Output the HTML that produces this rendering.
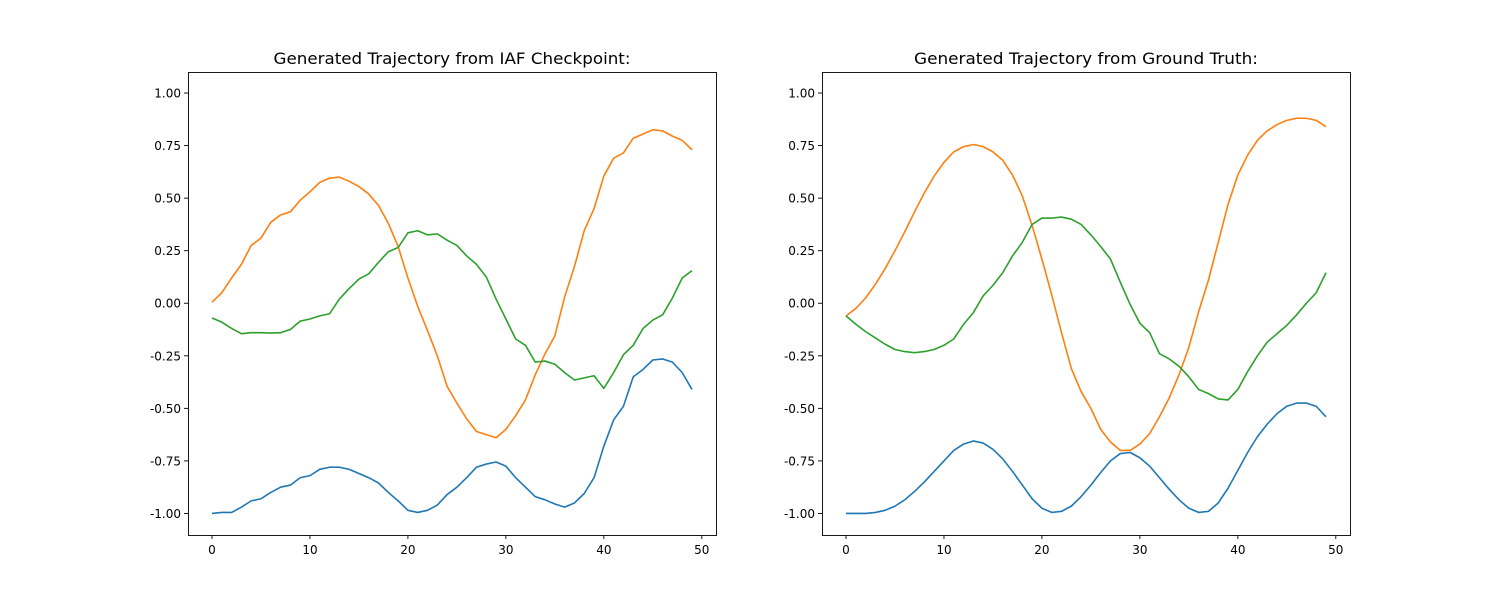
<!DOCTYPE html>
<html><head><meta charset="utf-8"><style>
html,body{margin:0;padding:0;background:#fff;}
svg{display:block;font-family:"DejaVu Sans","Liberation Sans",sans-serif;}
</style></head><body>
<svg id="fig" width="1500" height="600" viewBox="0 0 1500 600"></svg>
<script>
const xs = Array.from({length:50},(_,i)=>i);
const titles = ["Generated Trajectory from IAF Checkpoint:","Generated Trajectory from Ground Truth:"];
const titleLens = [357,344];
const xTicks = [0,10,20,30,40,50];
const yTicks = [-1.00,-0.75,-0.50,-0.25,0.00,0.25,0.50,0.75,1.00];
const seriesColors = ["#1f77b4","#ff7f0e","#2ca02c"];
const seriesNames = ["blue","orange","green"];
const leftBlue = [-1.0,-0.995,-0.995,-0.97,-0.94,-0.93,-0.9,-0.875,-0.865,-0.83,-0.82,-0.79,-0.78,-0.78,-0.79,-0.81,-0.83,-0.855,-0.9,-0.94,-0.985,-0.995,-0.985,-0.96,-0.91,-0.875,-0.83,-0.78,-0.765,-0.755,-0.775,-0.83,-0.875,-0.92,-0.935,-0.955,-0.97,-0.95,-0.905,-0.83,-0.68,-0.555,-0.49,-0.35,-0.315,-0.27,-0.265,-0.28,-0.33,-0.41];
const leftOrange = [0.005,0.05,0.12,0.185,0.275,0.31,0.385,0.42,0.435,0.49,0.53,0.575,0.595,0.6,0.58,0.555,0.52,0.465,0.38,0.27,0.12,-0.015,-0.13,-0.25,-0.395,-0.475,-0.55,-0.61,-0.625,-0.64,-0.6,-0.535,-0.46,-0.34,-0.24,-0.155,0.03,0.175,0.345,0.45,0.605,0.69,0.715,0.785,0.805,0.825,0.82,0.795,0.775,0.73];
const leftGreen = [-0.07,-0.09,-0.12,-0.145,-0.14,-0.14,-0.142,-0.14,-0.125,-0.085,-0.075,-0.06,-0.05,0.02,0.07,0.115,0.14,0.195,0.245,0.265,0.335,0.345,0.325,0.33,0.3,0.275,0.225,0.185,0.125,0.02,-0.075,-0.17,-0.2,-0.28,-0.275,-0.29,-0.33,-0.365,-0.355,-0.345,-0.405,-0.33,-0.245,-0.2,-0.12,-0.08,-0.055,0.025,0.12,0.155];
const rightBlue = [-1.0,-1.0,-1.0,-0.995,-0.985,-0.965,-0.935,-0.895,-0.85,-0.8,-0.75,-0.7,-0.67,-0.655,-0.665,-0.695,-0.74,-0.8,-0.865,-0.93,-0.975,-0.995,-0.99,-0.965,-0.92,-0.865,-0.805,-0.75,-0.715,-0.71,-0.735,-0.775,-0.83,-0.885,-0.935,-0.975,-0.995,-0.99,-0.95,-0.88,-0.795,-0.71,-0.635,-0.575,-0.525,-0.49,-0.475,-0.475,-0.49,-0.54];
const rightOrange = [-0.06,-0.025,0.025,0.09,0.165,0.25,0.34,0.435,0.525,0.605,0.67,0.72,0.745,0.755,0.745,0.72,0.68,0.61,0.51,0.37,0.21,0.04,-0.14,-0.31,-0.42,-0.5,-0.6,-0.66,-0.7,-0.7,-0.67,-0.62,-0.54,-0.45,-0.34,-0.21,-0.04,0.11,0.29,0.47,0.61,0.705,0.775,0.82,0.85,0.87,0.88,0.88,0.87,0.84];
const rightGreen = [-0.06,-0.1,-0.135,-0.165,-0.195,-0.22,-0.23,-0.235,-0.23,-0.22,-0.2,-0.17,-0.1,-0.045,0.035,0.085,0.145,0.225,0.29,0.375,0.405,0.405,0.41,0.4,0.375,0.325,0.27,0.21,0.1,-0.005,-0.095,-0.14,-0.24,-0.265,-0.3,-0.35,-0.41,-0.43,-0.455,-0.46,-0.41,-0.325,-0.25,-0.185,-0.145,-0.105,-0.055,0.0,0.05,0.145];
const panels = [[leftBlue,leftOrange,leftGreen],[rightBlue,rightOrange,rightGreen]];
const panelLeft = [188,822];
const NS="http://www.w3.org/2000/svg";
const svg=document.getElementById('fig');
function mk(tag,attrs,parent){const e=document.createElementNS(NS,tag);for(const k in attrs)e.setAttribute(k,attrs[k]);(parent||svg).appendChild(e);return e;}
const plotTop=72,plotBot=535,W=528;
const xmin=-2.45,xmax=51.45,ymin=-1.1024,ymax=1.1;
panels.forEach((data,p)=>{
  const L=panelLeft[p];
  const g=mk('g',{});
  
  
  const X=v=>L+(v-xmin)/(xmax-xmin)*W;
  const Y=v=>plotBot-(v-ymin)/(ymax-ymin)*(plotBot-plotTop);
  data.forEach((arr,s)=>{
    const d=arr.map((v,i)=>(i?'L':'M')+X(xs[i]).toFixed(2)+' '+Y(v).toFixed(2)).join(' ');
    const path=mk('path',{d:d,fill:'none',stroke:seriesColors[s],'stroke-width':1.6,'stroke-linejoin':'round'},g);
    
    
  });
  const frame=mk('rect',{x:L+0.5,y:plotTop+0.5,width:W,height:plotBot-plotTop,fill:'none',stroke:'#000','stroke-width':0.9},g);
  
  
  xTicks.forEach(t=>{
    const x=X(t);
    mk('line',{x1:x,x2:x,y1:plotBot,y2:plotBot+4,stroke:'#000','stroke-width':0.9},g);
    const tx=mk('text',{x:x,y:plotBot+19,'font-size':12,'text-anchor':'middle',fill:'#000'},g);
    tx.textContent=t;
    
    
  });
  yTicks.forEach(t=>{
    const y=Y(t);
    mk('line',{x1:L-4,x2:L,y1:y,y2:y,stroke:'#000','stroke-width':0.9},g);
    const tx=mk('text',{x:L-7,y:y+4.5,'font-size':12,'text-anchor':'end',fill:'#000'},g);
    tx.textContent=t.toFixed(2);
    
    
  });
  const ti=mk('text',{x:L+W/2,y:64,'font-size':16,'text-anchor':'middle',fill:'#000',textLength:titleLens[p],lengthAdjust:'spacingAndGlyphs'},g);
  ti.textContent=titles[p];
  
  
});
</script>
</body></html>
